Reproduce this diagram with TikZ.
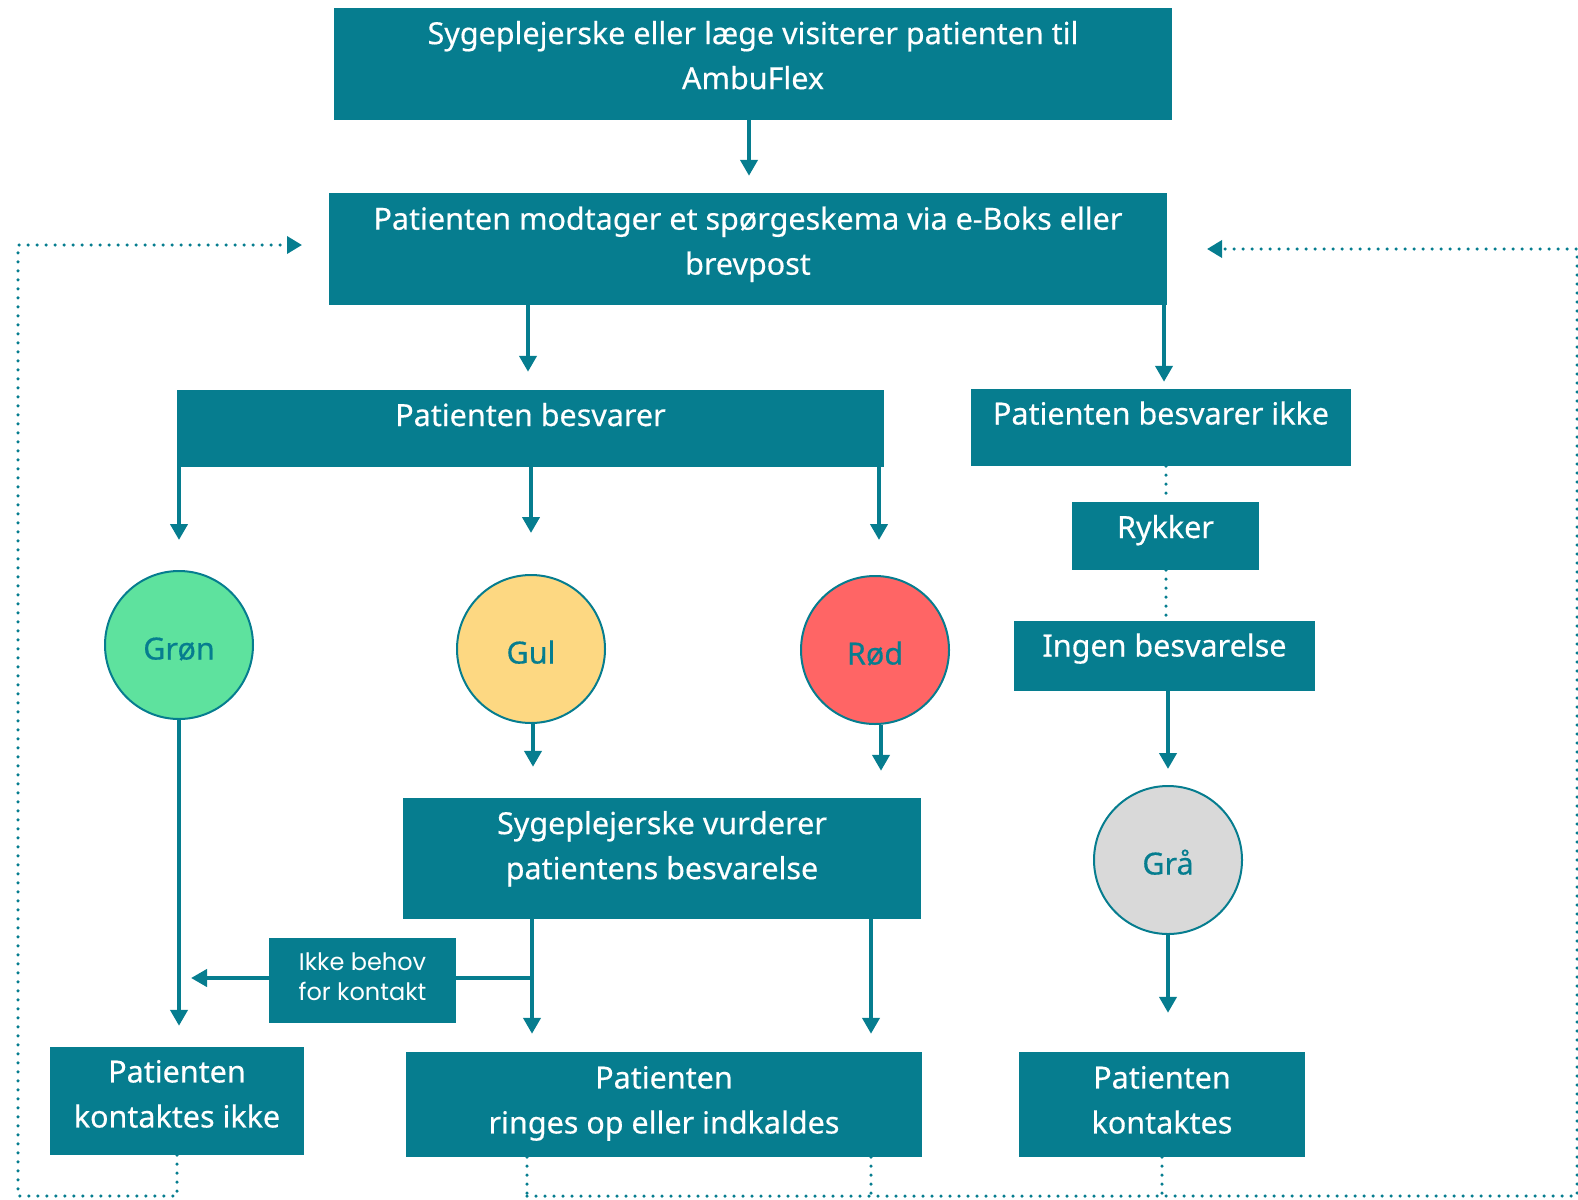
\documentclass[tikz,border=0pt]{standalone}
\usepackage{fontspec}
\setmainfont{Noto Sans}[FakeBold=0.4]
\newfontfamily\smallfont{Poppins}
\usetikzlibrary{arrows.meta}
\definecolor{teal}{HTML}{067D8F}
\definecolor{grn}{HTML}{5EE29E}
\definecolor{yel}{HTML}{FDD882}
\definecolor{redc}{HTML}{FF6565}
\definecolor{gry}{HTML}{D9D9D9}
\tikzset{
  box/.style={fill=teal, inner sep=0pt},
  txt/.style={text=white, inner sep=0pt, align=center, anchor=north,
    font=\fontsize{30.5}{45}\selectfont,
    execute at begin node=\strut, execute at end node=\strut},
  dot/.style={circle, draw=teal, line width=2pt, minimum size=148pt,
    inner sep=0pt, text=teal, text height=29pt, text depth=0pt,
    font=\fontsize{30.5}{36}\selectfont},
  arr/.style={draw=teal, line width=4pt, -{Triangle[width=17pt,length=16pt]}},
  plain/.style={draw=teal, line width=4pt},
  dotline/.style={draw=teal, line width=3.5pt, line cap=round,
    dash pattern=on 0pt off 9pt},
  dotarr/.style={dotline, -{Triangle[width=17pt,length=15pt]}},
}
\begin{document}
\begin{tikzpicture}[x=1pt, y=-1pt]
\useasboundingbox (0,0) rectangle (1578,1199);

% box shapes
\node[box, minimum width=838pt, minimum height=112pt] (visit) at (753,64) {};
\node[box, minimum width=838pt, minimum height=112pt] (skema) at (748,249) {};
\node[box, minimum width=707pt, minimum height=77pt] (svar) at (530.5,428.5) {};
\node[box, minimum width=380pt, minimum height=77pt] (ikkesvar) at (1161,427.5) {};
\node[box, minimum width=187pt, minimum height=68pt] (rykker) at (1165.5,536) {};
\node[box, minimum width=301pt, minimum height=70pt] (ingen) at (1164.5,656) {};
\node[box, minimum width=518pt, minimum height=121pt] (vurd) at (662,858.5) {};
\node[box, minimum width=187pt, minimum height=85pt] (behov) at (362.5,980.5) {};
\node[box, minimum width=254pt, minimum height=108pt] (kikke) at (177,1101) {};
\node[box, minimum width=516pt, minimum height=105pt] (ringes) at (664,1104.5) {};
\node[box, minimum width=286pt, minimum height=105pt] (kont) at (1162,1104.5) {};

% box texts, set from the top edge of each box
\node[txt] (visit-t) at ([yshift=-13pt]visit.north)
  {Sygeplejerske eller læge visiterer patienten til\\AmbuFlex};
\node[txt] (skema-t) at ([yshift=-13.5pt]skema.north)
  {Patienten modtager et spørgeskema via e-Boks eller\\brevpost};
\node[txt] (svar-t) at ([yshift=-4.5pt]svar.north) {Patienten besvarer};
\node[txt] (ikkesvar-t) at ([yshift=-4pt]ikkesvar.north) {Patienten besvarer ikke};
\node[txt] (rykker-t) at ([yshift=-4.5pt]rykker.north) {Rykker};
\node[txt] (ingen-t) at ([yshift=-4pt]ingen.north) {Ingen besvarelse};
\node[txt] (vurd-t) at ([yshift=-13pt]vurd.north)
  {Sygeplejerske vurderer\\patientens besvarelse};
\node[txt, font=\smallfont\fontsize{24}{30}\selectfont] (behov-t)
  at ([yshift=-15pt]behov.north) {Ikke behov\\for kontakt};
\node[txt] (kikke-t) at ([yshift=-13pt]kikke.north) {Patienten\\kontaktes ikke};
\node[txt] (ringes-t) at ([yshift=-14pt]ringes.north)
  {Patienten\\ringes op eller indkaldes};
\node[txt] (kont-t) at ([yshift=-14pt]kont.north) {Patienten\\kontaktes};

% traffic-light circles
\node[dot, fill=grn] (gron) at (179,645) {Grøn};
\node[dot, fill=yel] (gul) at (531,649) {Gul};
\node[dot, fill=redc] (rod) at (875,650) {Rød};
\node[dot, fill=gry] (gra) at (1168,860) {Grå};

% solid arrows
\draw[arr, shorten >=17pt] (visit.south -| 749,0) -- (skema.north -| 749,0);
\draw[arr, shorten >=18pt] (skema.south -| 528,0) -- (svar.north -| 528,0);
\draw[arr, shorten >=7pt] (skema.south -| 1164,0) -- (ikkesvar.north -| 1164,0);
\draw[arr, shorten >=30pt] (svar.south -| gron) -- (gron.north);
\draw[arr, shorten >=41pt] (svar.south -| gul) -- (gul.north);
\draw[arr, shorten >=35pt] (svar.south -| 879,0) -- (rod.north -| 879,0);
\draw[arr, shorten >=31pt] (gul.south -| 533,0) -- (vurd.north -| 533,0);
\draw[arr, shorten >=27pt] (rod.south -| 881,0) -- (vurd.north -| 881,0);
\draw[arr, shorten >=16pt] (ingen.south -| gra) -- (gra.north);
\draw[arr, shorten >=39pt] (gra.south) -- (kont.north -| gra);
\draw[arr, shorten >=18pt] (vurd.south -| 532,0) -- (ringes.north -| 532,0);
\draw[arr, shorten >=18pt] (vurd.south -| 871,0) -- (ringes.north -| 871,0);
\draw[arr, shorten >=21pt] (gron.south) -- (kikke.north -| gron);
\draw[plain] (vurd.south -| 532,0) |- (behov.east |- 0,978);
\draw[arr] (behov.west |- 0,978) -- (191,978);

% dotted links
\draw[dotline] (ikkesvar.south -| 1166,0) -- (rykker.north -| 1166,0);
\draw[dotline] (rykker.south -| 1166,0) -- (ingen.north -| 1166,0);

\coordinate (lb) at (177,1196);
\coordinate (lt) at (18,245);
\draw[dotarr] (kikke.south) -- (lb) -| (lt) -- (302,245);

\coordinate (rb) at (1577,1196);
\coordinate (rt) at (1577,249);
\draw[dotline] (ringes.south -| 527,0) -- (527,1196);
\draw[dotline] (ringes.south -| 871,0) -- (871,1196);
\draw[dotline] (kont.south) -- (kont.south |- rb);
\draw[dotarr] (527,1196) -- (rb) -- (rt) -- (1207,249);
\end{tikzpicture}
\end{document}
